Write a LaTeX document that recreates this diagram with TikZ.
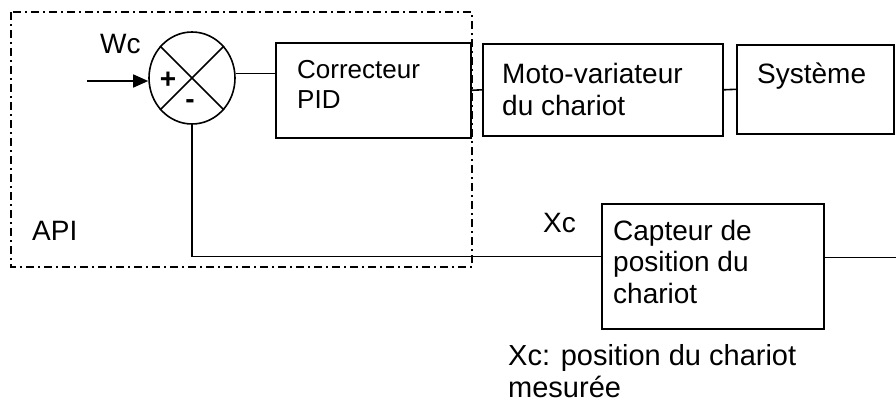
\documentclass[tikz,border=0pt]{standalone}
\usepackage{fontspec}
\setmainfont{Liberation Sans}
\usetikzlibrary{arrows.meta,positioning,shapes.geometric}

\begin{document}
\begin{tikzpicture}[x=1pt,y=-1pt]
  \tikzstyle{bloc}=[draw, line width=1.6pt, rectangle, anchor=north west, inner sep=0pt]
  \tikzstyle{lbl}=[anchor=base west, inner sep=0pt, align=left, font=\fontsize{28}{32}\selectfont]
  \tikzstyle{signe}=[inner sep=0pt, font=\fontsize{28}{32}\selectfont\bfseries]
  \tikzstyle{fil}=[line width=1.6pt]
  \useasboundingbox (0,0) rectangle (896,404);

  % cadre API
  \draw[fil, dash pattern=on 8pt off 4pt on 2pt off 4pt] (11,12) rectangle (472,267);
  \node[lbl] (api) at (32,240) {API};

  % comparateur
  \node[draw, ellipse, line width=1.6pt, minimum width=86pt, minimum height=92pt, inner sep=0pt] (sum) at (192,78) {};
  \draw[fil] (sum.45) -- (sum.225);
  \draw[fil] (sum.135) -- (sum.315);
  \node[signe] (plus) at (168,80) {+};
  \node[signe] (moins) at (190,104) {-};
  \coordinate (wcin) at (87,81);
  \node[lbl] (wc) at (100,53) {Wc};

  % blocs
  \node[bloc, minimum width=195pt, minimum height=95pt] (pid) at (275,42) {};
  \node[bloc, minimum width=240pt, minimum height=92pt] (moto) at (482,43) {};
  \node[bloc, minimum width=157pt, minimum height=89pt] (sys) at (736,44) {};
  \node[bloc, minimum width=222pt, minimum height=125pt] (capt) at (601,203) {};

  % textes (ancre sur la derniere ligne)
  \node[lbl, font=\fontsize{26}{30}\selectfont] (pidtxt) at (297,108) {Correcteur\\PID};
  \node[lbl] (mototxt) at (502,115) {Moto-variateur\\du chariot};
  \node[lbl] (systxt) at (757,83) {Système};
  \node[lbl, font=\fontsize{28}{31.5}\selectfont] (capttxt) at (613,303) {Capteur de\\position du\\chariot};
  \node[lbl] (xc) at (543,232) {Xc};
  \node[lbl, font=\fontsize{29}{32}\selectfont] (legende) at (508,397) {Xc: position du chariot\\mesurée};
  \coordinate (out) at (896,256);

  % liaisons
  \draw[fil, -{Triangle[length=15pt,width=13pt]}] (wcin) -- (wcin -| sum.west);
  \draw[fil] (sum.6) -- (sum.6 -| pid.west);
  \draw[fil] (pid.east) -- (moto.west);
  \draw[fil] (moto.east) -- (sys.west);
  \draw[fil] (sum.south) |- ([yshift=10pt]capt.west);
  \draw[fil] ([yshift=9pt]capt.east) -- ([yshift=9pt]capt.east -| out);
\end{tikzpicture}
\end{document}
